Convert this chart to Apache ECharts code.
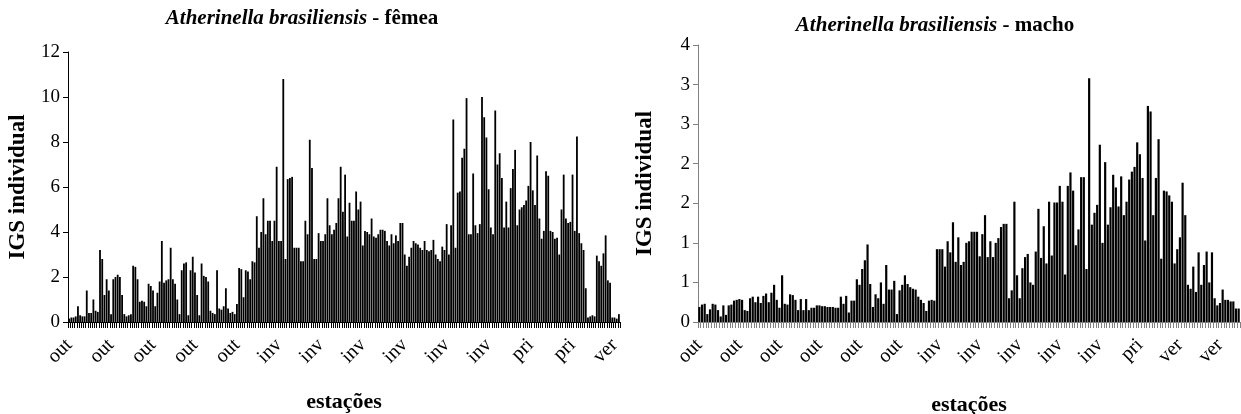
<!DOCTYPE html>
<html><head><meta charset="utf-8">
<script src="https://cdn.jsdelivr.net/npm/echarts@6/dist/echarts.min.js"></script>
<style>html,body{margin:0;padding:0;background:#fff}#c{width:1241px;height:414px}</style>
</head><body><div id="c"></div>
<script>
// Left panel: fêmea (IGS individual per fish)
const femeaValues = [
0.15,0.2,0.2,0.25,0.7,0.3,0.25,0.25,1.4,0.4,0.4,1.0,0.5,0.45,
3.2,2.8,1.2,1.9,1.4,0.35,1.9,2.0,2.1,2.0,1.2,0.35,0.25,0.3,0.35,2.5,
2.45,1.9,0.9,0.95,0.9,0.7,1.7,1.6,1.4,0.7,1.3,1.8,3.6,1.75,1.85,1.9,
3.3,1.9,1.7,1.0,0.35,2.3,2.6,2.65,0.3,2.3,2.9,2.2,1.2,0.3,2.6,2.05,
2.0,1.8,0.5,0.4,0.35,2.3,0.6,0.55,0.7,1.5,0.6,0.4,0.45,0.35,0.8,2.4,
2.35,1.1,2.3,2.25,1.9,2.7,2.65,
4.7,3.3,4.0,5.5,3.9,4.5,4.5,3.6,4.5,6.9,3.6,3.6,10.8,2.8,6.35,6.4,
6.45,3.3,3.3,3.3,2.7,2.7,4.5,3.9,8.1,6.85,2.8,2.8,3.95,3.6,3.6,3.9,
5.5,4.3,3.9,4.1,4.4,5.5,6.9,4.9,6.55,3.8,5.3,4.5,4.5,5.8,5.0,5.35,
3.4,4.05,4.0,3.9,4.6,3.8,3.75,3.9,4.1,4.1,4.05,3.6,3.4,3.9,3.5,3.85,
3.6,4.4,4.4,3.0,2.5,2.9,3.3,3.6,3.5,3.45,3.3,3.2,3.6,3.2,3.15,3.2,
3.65,3.0,2.8,2.7,3.35,3.2,4.35,3.0,4.3,9.0,3.3,5.75,5.8,7.3,7.7,9.95,
3.9,3.9,6.6,4.3,3.95,4.35,10.0,9.1,8.2,5.9,4.2,3.9,9.4,7.0,7.5,6.4,
4.2,5.35,4.2,5.95,6.8,7.65,4.3,5.0,5.1,5.2,5.4,6.05,8.0,5.85,5.2,7.4,
4.6,3.7,4.05,6.7,6.5,4.05,4.0,3.7,3.75,3.0,5.0,6.55,4.6,4.4,4.45,6.55,
4.05,8.25,3.95,3.5,3.2,1.5,0.2,0.25,0.3,0.25,2.95,2.7,2.5,3.05,3.85,1.85,
1.75,0.2,0.2,0.15,0.35
];
const femeaTickLabels = ['out','out','out','out','out','inv','inv','inv','inv','inv','inv','pri','pri','ver'];
const femeaYTicks = [0,2,4,6,8,10,12];

// Right panel: macho
const machoValues = [
0.19,0.22,0.23,0.1,0.16,0.23,0.22,0.15,0.07,0.21,0.09,0.21,0.22,0.27,0.28,0.29,
0.28,0.15,0.14,0.3,0.32,0.25,0.32,0.24,0.33,0.36,0.25,0.37,0.47,0.28,0.18,0.59,
0.23,0.22,0.35,0.34,0.28,0.15,0.29,0.15,0.29,0.15,0.18,0.18,0.21,0.21,0.2,0.2,
0.19,0.19,0.19,0.18,0.18,0.32,0.23,0.33,0.12,0.27,0.27,0.54,0.47,0.67,0.78,0.98,
0.48,0.19,0.35,0.3,0.5,0.23,0.72,0.41,0.41,0.52,0.1,0.4,0.47,0.59,0.48,0.44,
0.42,0.41,0.32,0.28,0.24,0.14,0.27,0.28,0.27,0.92,0.92,0.92,0.7,1.02,0.88,1.26,
0.76,1.07,0.72,0.76,1.0,1.02,1.14,1.14,1.14,0.83,1.11,1.35,0.82,1.02,0.82,1.0,
1.06,1.2,1.24,1.24,0.3,0.4,1.52,0.59,0.3,0.68,0.82,0.86,0.5,0.47,0.89,1.43,
0.81,1.21,0.74,1.52,0.84,1.51,1.51,1.72,1.52,0.6,1.72,1.89,1.66,0.97,1.17,1.83,
1.83,0.67,3.08,1.23,1.38,1.48,2.24,1.0,2.02,1.23,1.45,1.86,1.7,1.46,1.84,1.35,
1.52,1.8,1.9,1.96,2.27,2.12,1.82,1.03,2.73,2.66,1.35,1.82,2.31,0.8,1.66,1.65,
1.6,1.52,0.74,0.92,1.07,1.76,1.35,0.47,0.42,0.7,0.38,0.88,0.47,0.72,0.89,0.5,
0.88,0.3,0.21,0.24,0.41,0.28,0.28,0.26,0.26,0.17,0.17
];
const machoTickLabels = ['out','out','out','out','out','out','inv','inv','inv','inv','inv','pri','ver','ver'];
const machoYTicks = [0,0.5,1,1.5,2,2.5,3,3.5];

const femeaStep = 19, machoStep = 15;
const femeaCats = femeaValues.map((v,i)=>String(i+1));
const machoCats = machoValues.map((v,i)=>String(i+1));

const serif = 'Liberation Serif';
const chart = echarts.init(document.getElementById('c'), null, {renderer:'canvas'});

function xAx(gridIndex, cats, labels, step, axisColor, gap){
  return {
    type:'category', gridIndex, data:cats, boundaryGap:true,
    axisLine:{show:true, lineStyle:{color:axisColor, width:1}},
    axisTick:{show:true, interval:0, length:6, lineStyle:{color:axisColor, width:1}},
    axisLabel:{interval:step-1, rotate:45, margin:20, fontFamily:serif, fontSize:20, color:'#000',
      formatter:(v,idx)=>labels[Math.round(idx/step)] || ''},
    name:'estações', nameLocation:'middle', nameGap:gap,
    nameTextStyle:{fontFamily:serif, fontWeight:'bold', fontSize:22, color:'#000'}
  };
}
function yAx(gridIndex, ticks, fmt, axisColor, gap){
  return {
    type:'value', gridIndex, min:ticks[0], max:ticks[ticks.length-1], interval:ticks[1]-ticks[0],
    axisLine:{show:true, lineStyle:{color:axisColor, width:1}},
    axisTick:{show:true, length:5, lineStyle:{color:axisColor}},
    splitLine:{show:false},
    axisLabel:{fontFamily:serif, fontSize:19, color:'#000', margin:8, formatter:fmt},
    name:'IGS individual', nameLocation:'middle', nameRotate:90, nameGap:gap,
    nameTextStyle:{fontFamily:serif, fontWeight:'bold', fontSize:23, color:'#000'}
  };
}

const titleRich = {
  i:{fontFamily:serif, fontStyle:'italic', fontWeight:'bold', fontSize:21, color:'#000'},
  b:{fontFamily:serif, fontWeight:'bold', fontSize:21, color:'#000'}
};
chart.setOption({
  animation:false,
  title:[
    {text:'{i|Atherinella brasiliensis}{b| - fêmea}', left:297, top:3, textAlign:'center', textStyle:{rich:titleRich}},
    {text:'{i|Atherinella brasiliensis}{b| - macho}', left:930, top:10, textAlign:'center', textStyle:{rich:titleRich}}
  ],
  grid:[
    {left:68, width:552, top:52, height:270, outerBoundsMode:'none', containLabel:false},
    {left:698, width:542, top:45, height:277, outerBoundsMode:'none', containLabel:false}
  ],
  xAxis:[ xAx(0, femeaCats, femeaTickLabels, femeaStep, '#000', 69), xAx(1, machoCats, machoTickLabels, machoStep, '#808080', 72) ],
  yAxis:[ yAx(0, femeaYTicks, v=>String(v), '#000', 38), yAx(1, machoYTicks, v=>String(Math.round(v)), '#808080', 41) ],
  series:[
    {type:'bar', xAxisIndex:0, yAxisIndex:0, data:femeaValues, barCategoryGap:'18%', itemStyle:{color:'#000'}},
    {type:'bar', xAxisIndex:1, yAxisIndex:1, data:machoValues, barCategoryGap:'18%', itemStyle:{color:'#000'}}
  ]
});
</script></body></html>
